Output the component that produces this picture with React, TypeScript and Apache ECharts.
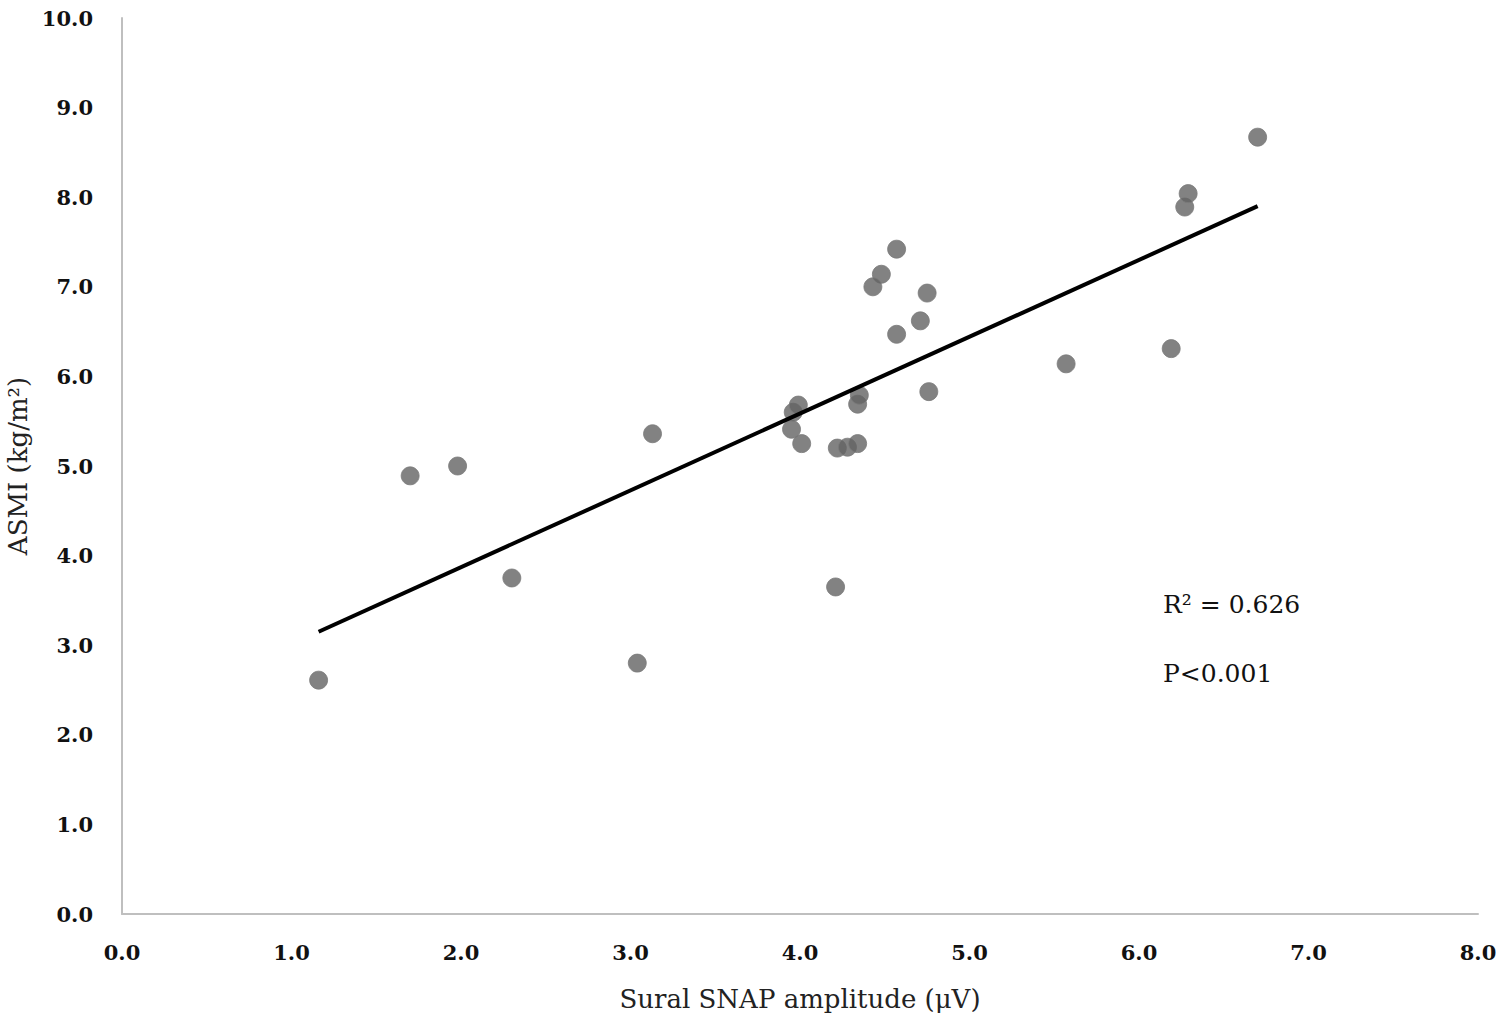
import React, { useEffect, useRef } from "react";
import * as echarts from "echarts";

const xValues = [1.16, 1.70, 1.98, 2.30, 3.04, 3.13, 3.95, 3.96, 3.99, 4.01, 4.22, 4.28, 4.34, 4.34, 4.35, 4.21, 4.57, 4.48, 4.43, 4.75, 4.71, 4.57, 4.76, 5.57, 6.19, 6.27, 6.29, 6.70];
const yValues = [2.61, 4.89, 5.00, 3.75, 2.80, 5.36, 5.41, 5.60, 5.68, 5.25, 5.20, 5.21, 5.25, 5.69, 5.79, 3.65, 7.42, 7.14, 7.00, 6.93, 6.62, 6.47, 5.83, 6.14, 6.31, 7.89, 8.04, 8.67];
const trendX = [1.16, 6.70];
const trendY = [3.15, 7.90];
const statLabels = ["R\u00B2 = 0.626", "P<0.001"];
const xTitle = "Sural SNAP amplitude (\u03BCV)";
const yTitle = "ASMI (kg/m\u00B2)";

export default function App() {
  const ref = useRef<HTMLDivElement>(null);
  useEffect(() => {
    const chart = echarts.init(ref.current!, null, { renderer: "svg" });
    const tickFont = { fontFamily: "DejaVu Serif", fontWeight: "bold" as const, fontSize: 21, color: "#111" };
    chart.setOption({
      animation: false,
      backgroundColor: "#ffffff",
      grid: { left: 122, top: 18, right: 30, bottom: 111, containLabel: false, outerBoundsMode: "none" },
      xAxis: {
        type: "value",
        min: 0,
        max: 8,
        interval: 1,
        name: xTitle,
        nameLocation: "middle",
        nameGap: 72,
        nameTextStyle: { fontFamily: "DejaVu Serif", fontSize: 26, color: "#222" },
        axisLine: { show: true, lineStyle: { color: "#bfbfbf", width: 2 } },
        axisTick: { show: false },
        splitLine: { show: false },
        axisLabel: { ...tickFont, margin: 28, formatter: (v: number) => v.toFixed(1) },
      },
      yAxis: {
        type: "value",
        min: 0,
        max: 10,
        interval: 1,
        name: yTitle,
        nameLocation: "middle",
        nameGap: 76,
        nameTextStyle: { fontFamily: "DejaVu Serif", fontSize: 26, color: "#222" },
        axisLine: { show: true, lineStyle: { color: "#bfbfbf", width: 2 } },
        axisTick: { show: false },
        splitLine: { show: false },
        axisLabel: { ...tickFont, margin: 29, formatter: (v: number) => v.toFixed(1) },
      },
      series: [
        {
          type: "line",
          data: trendX.map((x, i) => [x, trendY[i]]),
          showSymbol: false,
          symbol: "none",
          lineStyle: { color: "#000000", width: 4 },
          z: 3,
        },
        {
          type: "scatter",
          data: xValues.map((x, i) => [x, yValues[i]]),
          symbol: "circle",
          symbolSize: 18,
          itemStyle: { color: "#636363", borderColor: "#7a7a7a", borderWidth: 1 },
          z: 2,
        },
      ],
      graphic: [
        {
          type: "text",
          left: 1163,
          top: 592,
          style: { text: statLabels[0], fontFamily: "DejaVu Serif", fontSize: 25, fill: "#111" },
        },
        {
          type: "text",
          left: 1163,
          top: 661,
          style: { text: statLabels[1], fontFamily: "DejaVu Serif", fontSize: 25, fill: "#111" },
        },
      ],
    });
    return () => chart.dispose();
  }, []);
  return (
    <div
      ref={ref}
      style={{ position: "absolute", left: 0, top: 0, width: 1508, height: 1025, background: "#fff" }}
    />
  );
}
